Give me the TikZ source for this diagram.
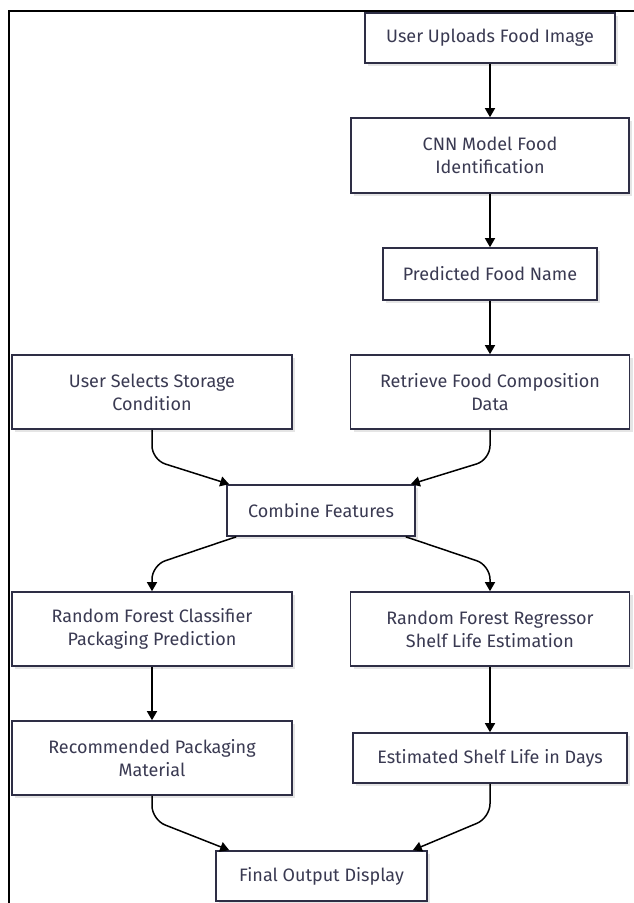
\documentclass[tikz,border=0pt]{standalone}
\usepackage{fontspec}
\setmainfont{Fira Sans}
\usepackage{xcolor}
\usetikzlibrary{positioning}
\usetikzlibrary{arrows.meta}
\usetikzlibrary{shadows}
\definecolor{boxline}{HTML}{2E2E45}
\definecolor{boxtext}{HTML}{3A3A52}

\begin{document}
\begin{tikzpicture}[x=1pt,y=-1pt,
  stage/.style={draw=boxline, line width=1.6pt, fill=white, text=boxtext, align=center,
    font=\fontsize{18}{23}\selectfont, inner sep=0pt,
    drop shadow={shadow xshift=3pt, shadow yshift=-3pt, fill=black!10, opacity=1}},
  flow/.style={line width=1.5pt, -{Triangle[width=10pt,length=9pt]}, rounded corners=14pt}]
\useasboundingbox (0,0) rectangle (634,903);
\draw[line width=1.5pt] (9,903) -- (9,11) -- (634,11);

\node[stage, minimum width=250pt, minimum height=50pt] (upload) at (490,38) {User Uploads Food Image};
\node[stage, minimum width=278pt, minimum height=75pt] (cnn) at (490,155.5) {CNN Model Food\\Identification};
\node[stage, minimum width=214pt, minimum height=52pt] (pred) at (490,274) {Predicted Food Name};
\node[stage, minimum width=280pt, minimum height=74pt] (store) at (152,392) {User Selects Storage\\Condition};
\node[stage, minimum width=279pt, minimum height=74pt] (retr) at (490,392) {Retrieve Food Composition\\Data};
\node[stage, minimum width=188pt, minimum height=51pt] (comb) at (321,510.5) {Combine Features};
\node[stage, minimum width=280pt, minimum height=74pt] (rfc) at (152,629) {Random Forest Classifier\\Packaging Prediction};
\node[stage, minimum width=279pt, minimum height=74pt] (rfr) at (490,629) {Random Forest Regressor\\Shelf Life Estimation};
\node[stage, minimum width=280pt, minimum height=74pt] (rec) at (152,758) {Recommended Packaging\\Material};
\node[stage, minimum width=274pt, minimum height=50pt] (est) at (490,758) {Estimated Shelf Life in Days};
\node[stage, minimum width=211pt, minimum height=50pt] (fin) at (321.5,876) {Final Output Display};

\draw[flow] (upload) -- (cnn);
\draw[flow] (cnn) -- (pred);
\draw[flow] (pred) -- (retr);
\draw[flow] (store.south) -- ++(0,30) -- ([xshift=3pt]comb.north west);
\draw[flow] (retr.south) -- ++(0,30) -- ([xshift=-5pt]comb.north east);
\draw[flow] ([xshift=10pt]comb.south west) -- ([yshift=26pt]rfc.north) -- (rfc.north);
\draw[flow] ([xshift=-10pt]comb.south east) -- ([yshift=26pt]rfr.north) -- (rfr.north);
\draw[flow] (rfc) -- (rec);
\draw[flow] (rfr) -- (est);
\draw[flow] (rec.south) -- ++(0,24) -- ([xshift=14pt]fin.north west);
\draw[flow] (est.south) -- ++(0,34) -- ([xshift=-15pt]fin.north east);
\end{tikzpicture}
\end{document}
